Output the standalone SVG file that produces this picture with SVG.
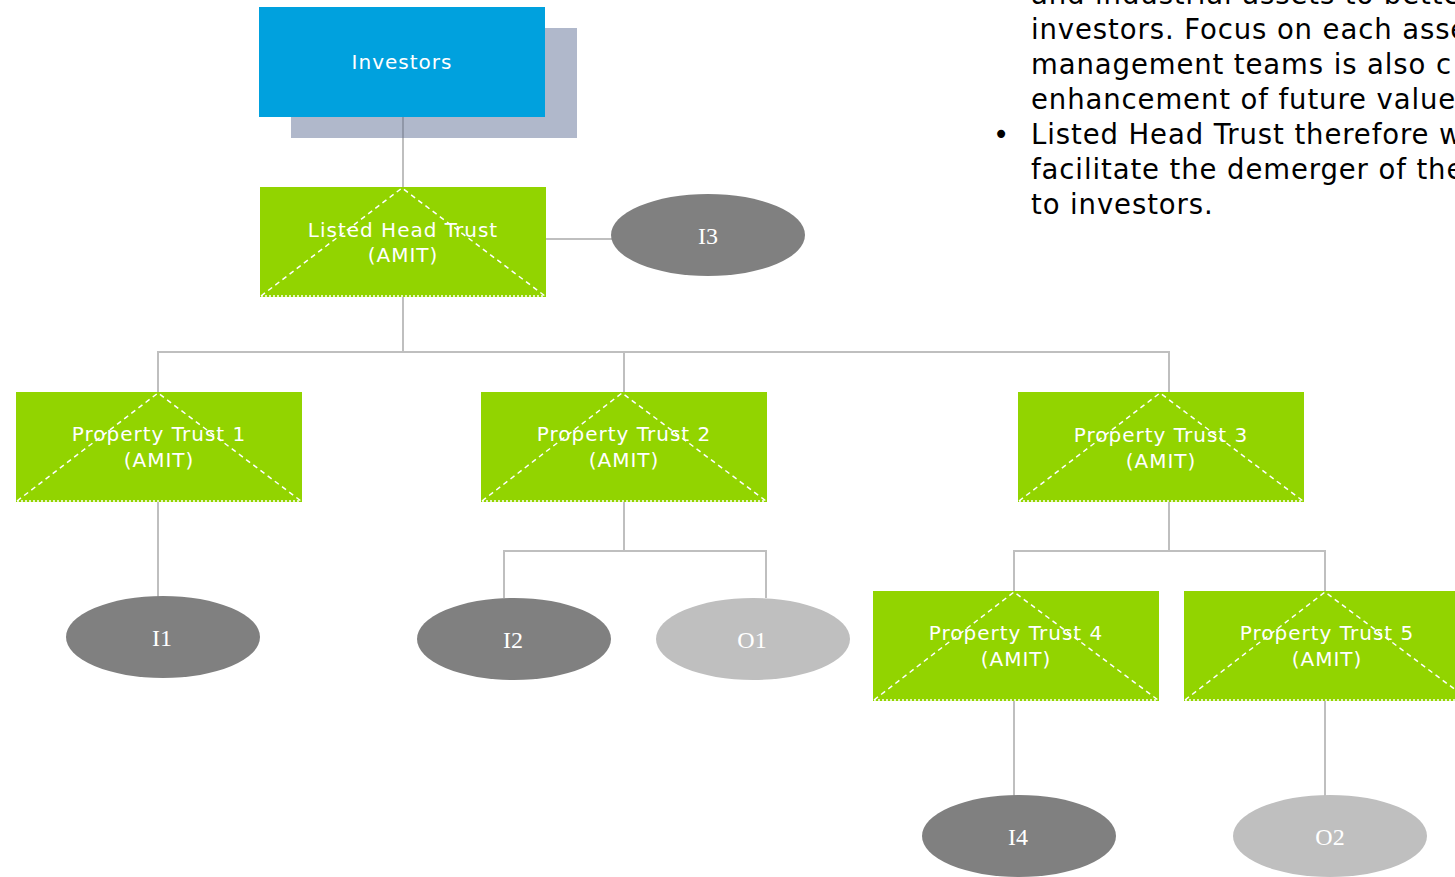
<svg xmlns="http://www.w3.org/2000/svg" width="1455" height="877" viewBox="0 0 1455 877">
  <style>
    .box { fill: #92D400; }
    .tri { fill: none; stroke: #FFFFFF; stroke-width: 1.5; stroke-dasharray: 5 4; }
    .base { fill: none; stroke: #FFFFFF; stroke-width: 1.5; stroke-dasharray: 2 2; }
    .lbl { font-family: "DejaVu Sans", Verdana, sans-serif; font-size: 20px; letter-spacing: 1px; fill: #FFFFFF; text-anchor: middle; }
    .oval-lbl { font-family: "Liberation Serif", "DejaVu Serif", serif; font-size: 24px; fill: #FFFFFF; text-anchor: middle; dominant-baseline: central; }
    .dark { fill: #808080; }
    .light { fill: #BFBFBF; }
    .wire { fill: none; stroke: #BFBFBF; stroke-width: 2; }
    .body { font-family: "DejaVu Sans", Verdana, sans-serif; font-size: 27.5px; letter-spacing: 0.9px; fill: #000000; }
  </style>

  <rect width="1455" height="877" fill="#FFFFFF"/>

  <!-- explanatory bullet text -->
  <g id="notes">
    <text class="body" x="1031" y="4">and industrial assets to better</text>
    <text class="body" x="1031" y="39">investors. Focus on each asset</text>
    <text class="body" x="1031" y="74">management teams is also c</text>
    <text class="body" x="1031" y="109">enhancement of future value</text>
    <text class="body" x="993" y="144">•</text>
    <text class="body" x="1031" y="144">Listed Head Trust therefore w</text>
    <text class="body" x="1031" y="179">facilitate the demerger of the</text>
    <text class="body" x="1031" y="214">to investors.</text>
  </g>

  <!-- connectors -->
  <g id="connectors">
    <path class="wire" d="M403 117 V187"/>
    <path class="wire" d="M546 239 H612"/>
    <path class="wire" d="M403 297 V352 M158 392 V352 H1169 V392 M624 352 V392"/>
    <path class="wire" d="M158 502 V597"/>
    <path class="wire" d="M624 502 V551 M504 598 V551 H766 V598"/>
    <path class="wire" d="M1169 502 V551 M1014 591 V551 H1325 V591"/>
    <path class="wire" d="M1014 701 V796"/>
    <path class="wire" d="M1325 701 V796"/>
  </g>

  <!-- investors -->
  <g id="investors">
    <rect x="291" y="28" width="286" height="110" fill="#B0B8CB"/>
    <path d="M403 117 V138" stroke="#9097A8" stroke-width="2"/>
    <rect x="259" y="7" width="286" height="110" fill="#00A1DE"/>
    <text class="lbl" x="402" y="69">Investors</text>
  </g>

  <!-- listed head trust -->
  <g id="head-trust">
    <rect class="box" x="260" y="187" width="286" height="110"/>
    <path class="tri" d="M261 296 L402 188 L545 296"/>
    <path class="base" d="M261 296 H545"/>
    <text class="lbl" x="403" y="237">Listed Head Trust</text>
    <text class="lbl" x="403" y="262">(AMIT)</text>
  </g>

  <g id="i3">
    <ellipse class="dark" cx="708" cy="235" rx="97" ry="41"/>
    <text class="oval-lbl" x="708" y="236">I3</text>
  </g>

  <g id="property-trust-1">
    <rect class="box" x="16" y="392" width="286" height="110"/>
    <path class="tri" d="M17 501 L158 393 L301 501"/>
    <path class="base" d="M17 501 H301"/>
    <text class="lbl" x="159" y="441">Property Trust 1</text>
    <text class="lbl" x="159" y="467">(AMIT)</text>
  </g>

  <g id="property-trust-2">
    <rect class="box" x="481" y="392" width="286" height="110"/>
    <path class="tri" d="M482 501 L622 393 L766 501"/>
    <path class="base" d="M482 501 H766"/>
    <text class="lbl" x="624" y="441">Property Trust 2</text>
    <text class="lbl" x="624" y="467">(AMIT)</text>
  </g>

  <g id="property-trust-3">
    <rect class="box" x="1018" y="392" width="286" height="110"/>
    <path class="tri" d="M1019 501 L1160 393 L1303 501"/>
    <path class="base" d="M1019 501 H1303"/>
    <text class="lbl" x="1161" y="442">Property Trust 3</text>
    <text class="lbl" x="1161" y="468">(AMIT)</text>
  </g>

  <g id="property-trust-4">
    <rect class="box" x="873" y="591" width="286" height="110"/>
    <path class="tri" d="M874 700 L1014 592 L1158 700"/>
    <path class="base" d="M874 700 H1158"/>
    <text class="lbl" x="1016" y="640">Property Trust 4</text>
    <text class="lbl" x="1016" y="666">(AMIT)</text>
  </g>

  <g id="property-trust-5">
    <rect class="box" x="1184" y="591" width="286" height="110"/>
    <path class="tri" d="M1185 700 L1325 592 L1469 700"/>
    <path class="base" d="M1185 700 H1469"/>
    <text class="lbl" x="1327" y="640">Property Trust 5</text>
    <text class="lbl" x="1327" y="666">(AMIT)</text>
  </g>

  <g id="i1">
    <ellipse class="dark" cx="163" cy="637" rx="97" ry="41"/>
    <text class="oval-lbl" x="162" y="638">I1</text>
  </g>

  <g id="i2">
    <ellipse class="dark" cx="514" cy="639" rx="97" ry="41"/>
    <text class="oval-lbl" x="513" y="640">I2</text>
  </g>

  <g id="o1">
    <ellipse class="light" cx="753" cy="639" rx="97" ry="41"/>
    <text class="oval-lbl" x="752" y="640">O1</text>
  </g>

  <g id="i4">
    <ellipse class="dark" cx="1019" cy="836" rx="97" ry="41"/>
    <text class="oval-lbl" x="1018" y="837">I4</text>
  </g>

  <g id="o2">
    <ellipse class="light" cx="1330" cy="836" rx="97" ry="41"/>
    <text class="oval-lbl" x="1330" y="837">O2</text>
  </g>
</svg>
